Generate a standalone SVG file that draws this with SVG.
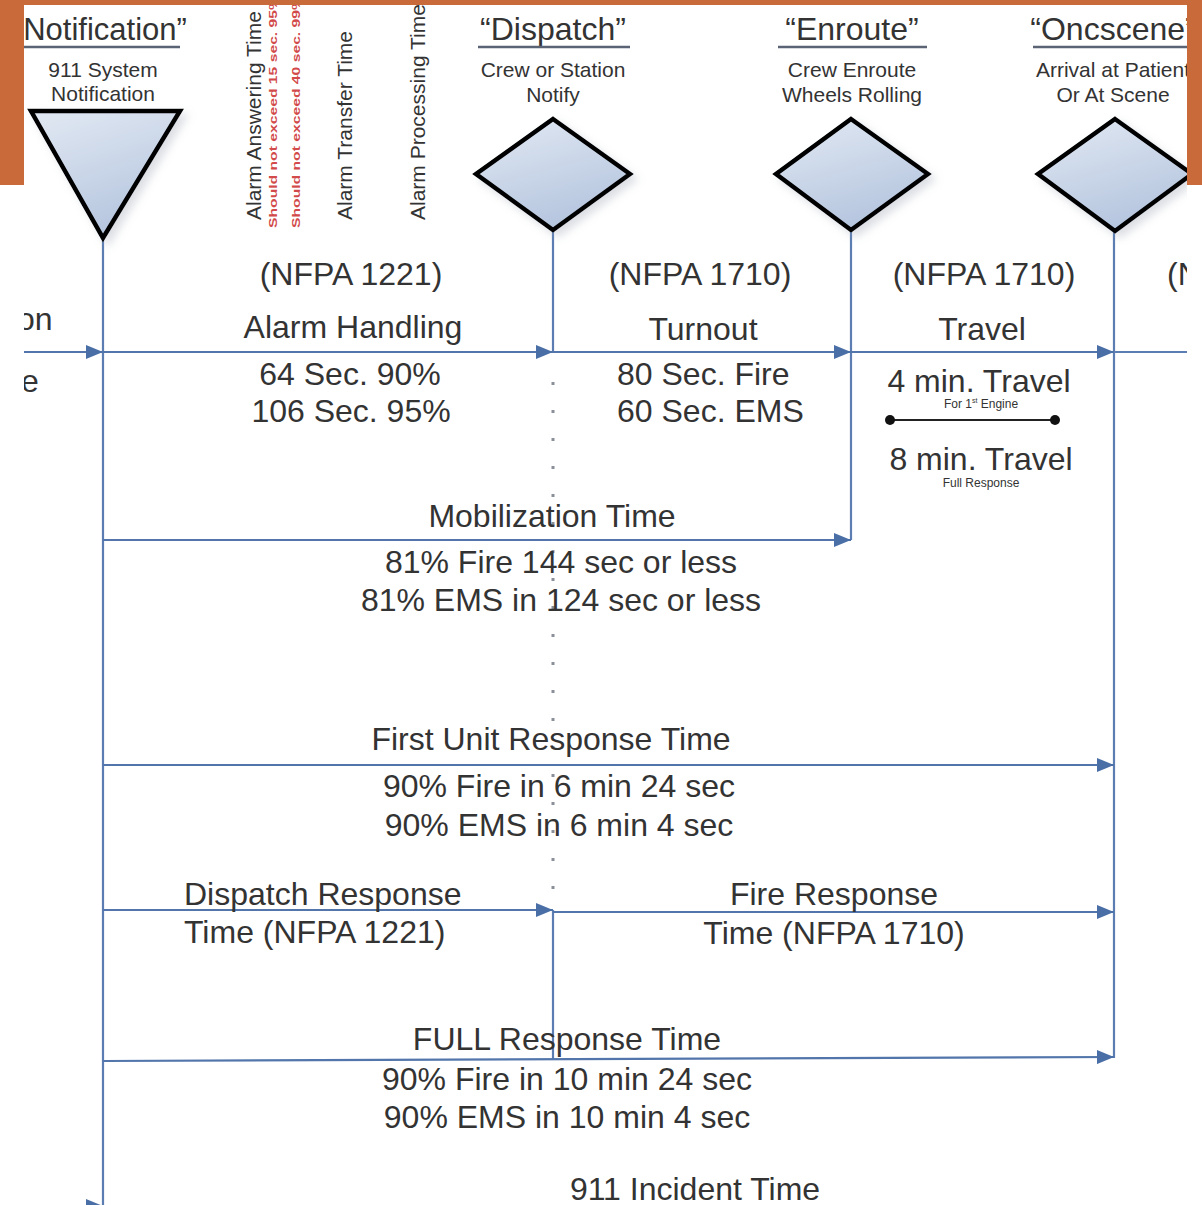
<svg xmlns="http://www.w3.org/2000/svg" width="1202" height="1205" viewBox="0 0 1202 1205">
<style>
text{font-family:"Liberation Sans",Arial,sans-serif;fill:#333}
.hd{font-size:32px;text-anchor:middle}
.sub{font-size:21px;text-anchor:middle}
.lbl{font-size:32px;text-anchor:middle}
.lbls{font-size:32px}
.vt{font-size:21px}
.red{font-size:11px;font-weight:bold;fill:#d24a4a}
.tiny{font-size:12px;text-anchor:middle}
.ul{stroke:#5a6475;stroke-width:2.5}
.shape{stroke:#000;stroke-width:4.5;stroke-linejoin:miter;fill:url(#g1);filter:url(#sh)}
.ln{stroke:#5b7db2;stroke-width:2.2;fill:none}
.arr{stroke:#5276ab;stroke-width:2.2;fill:none;marker-end:url(#ah)}
.dots{stroke:#8a8f99;stroke-width:3;stroke-dasharray:3 25;fill:none}
.orange{fill:#c96a3b}
</style>
<defs>
<linearGradient id="g1" x1="0" y1="0" x2="0.4" y2="1">
<stop offset="0" stop-color="#e2e9f3"/>
<stop offset="1" stop-color="#b6c6df"/>
</linearGradient>
<filter id="sh" x="-20%" y="-20%" width="150%" height="150%">
<feDropShadow dx="5" dy="5" stdDeviation="4" flood-color="#9aa3b0" flood-opacity="0.35"/>
</filter>
<marker id="ah" markerUnits="userSpaceOnUse" markerWidth="18" markerHeight="14" refX="17" refY="7" orient="auto">
<path d="M0,0 L17,7 L0,14 Z" fill="#4a6ea6"/>
</marker>
</defs>
<rect width="1202" height="1205" fill="#fff"/>

<g id="connectors">
<line class="ln" x1="103" y1="236" x2="103" y2="1205"/>
<line class="ln" x1="553" y1="228" x2="553" y2="352"/>
<line class="dots" x1="553" y1="382" x2="553" y2="905"/>
<line class="ln" x1="553" y1="910" x2="553" y2="1060"/>
<line class="ln" x1="851" y1="228" x2="851" y2="540"/>
<line class="ln" x1="1114" y1="230" x2="1114" y2="1058"/>
<line class="arr" x1="20" y1="352" x2="103" y2="352"/>
<line class="arr" x1="103" y1="352" x2="553" y2="352"/>
<line class="arr" x1="553" y1="352" x2="851" y2="352"/>
<line class="arr" x1="851" y1="352" x2="1114" y2="352"/>
<line class="ln" x1="1114" y1="352" x2="1190" y2="352"/>
<line class="arr" x1="103" y1="540" x2="851" y2="540"/>
<line class="arr" x1="103" y1="765" x2="1114" y2="765"/>
<line class="arr" x1="103" y1="910" x2="553" y2="910"/>
<line class="arr" x1="553" y1="912" x2="1114" y2="912"/>
<line class="arr" x1="103" y1="1061" x2="1114" y2="1057"/>
<line class="arr" x1="20" y1="1206" x2="103" y2="1206"/>
</g>

<g id="node-notification">
<text class="hd" x="105" y="40" style="font-size:31px">Notification”</text>
<line class="ul" x1="24" y1="47" x2="180" y2="47"/>
<text class="sub" x="103" y="77">911 System</text>
<text class="sub" x="103" y="101">Notification</text>
<path class="shape" d="M31,111 L180,111 L103,238 Z"/>
</g>

<g id="alarm-times">
<text class="vt" transform="translate(261,220) rotate(-90)">Alarm Answering Time</text>
<text class="red" transform="translate(277,228) rotate(-90)" textLength="232" lengthAdjust="spacingAndGlyphs">Should not exceed 15 sec. 95%</text>
<text class="red" transform="translate(300,228) rotate(-90)" textLength="232" lengthAdjust="spacingAndGlyphs">Should not exceed 40 sec. 99%</text>
<text class="vt" transform="translate(352,220) rotate(-90)">Alarm Transfer Time</text>
<text class="vt" transform="translate(425,220) rotate(-90)">Alarm Processing Time</text>
</g>

<g id="node-dispatch">
<text class="hd" x="553" y="40">“Dispatch”</text>
<line class="ul" x1="478" y1="47" x2="630" y2="47"/>
<text class="sub" x="553" y="77">Crew or Station</text>
<text class="sub" x="553" y="102">Notify</text>
<path class="shape" d="M553,119 L630,174 L553,230 L476,174 Z"/>
</g>

<g id="node-enroute">
<text class="hd" x="852" y="40">“Enroute”</text>
<line class="ul" x1="778" y1="47" x2="927" y2="47"/>
<text class="sub" x="852" y="77">Crew Enroute</text>
<text class="sub" x="852" y="102">Wheels Rolling</text>
<path class="shape" d="M851,119 L928,174 L851,230 L776,174 Z"/>
</g>

<g id="node-oncscene">
<text class="hd" x="1113" y="40">“Oncscene”</text>
<line class="ul" x1="1033" y1="47" x2="1190" y2="47"/>
<text class="sub" x="1113" y="77">Arrival at Patient</text>
<text class="sub" x="1113" y="102">Or At Scene</text>
<path class="shape" d="M1115,119 L1192,174 L1115,231 L1038,174 Z"/>
</g>

<g id="phase-alarm">
<text class="lbl" x="351" y="285">(NFPA 1221)</text>
<text class="lbl" x="353" y="338">Alarm Handling</text>
<text class="lbl" x="350" y="385">64 Sec. 90%</text>
<text class="lbl" x="351" y="422">106 Sec. 95%</text>
</g>

<g id="phase-turnout">
<text class="lbl" x="700" y="285">(NFPA 1710)</text>
<text class="lbl" x="703" y="340">Turnout</text>
<text class="lbls" x="617" y="385">80 Sec. Fire</text>
<text class="lbls" x="617" y="422">60 Sec. EMS</text>
</g>

<g id="phase-travel">
<text class="lbl" x="984" y="285">(NFPA 1710)</text>
<text class="lbl" x="982" y="340">Travel</text>
<text class="lbl" x="979" y="392">4 min. Travel</text>
<text class="tiny" x="981" y="408">For 1<tspan font-size="7" dy="-5">st</tspan><tspan dy="5"> Engine</tspan></text>
<line x1="890" y1="420" x2="1055" y2="420" stroke="#222" stroke-width="2"/>
<circle cx="890" cy="420" r="5" fill="#111"/>
<circle cx="1055" cy="420" r="5" fill="#111"/>
<text class="lbl" x="981" y="470">8 min. Travel</text>
<text class="tiny" x="981" y="487">Full Response</text>
<text class="lbls" x="1167" y="285">(N</text>
</g>

<g id="left-cut">
<text class="lbls" x="17" y="330">on</text>
<text class="lbls" x="21" y="392">e</text>
</g>

<g id="mobilization">
<text class="lbl" x="552" y="527">Mobilization Time</text>
<text class="lbl" x="561" y="573">81% Fire 144 sec or less</text>
<text class="lbl" x="561" y="611">81% EMS in 124 sec or less</text>
</g>

<g id="first-unit">
<text class="lbl" x="551" y="750">First Unit Response Time</text>
<text class="lbl" x="559" y="797">90% Fire in 6 min 24 sec</text>
<text class="lbl" x="559" y="836">90% EMS in 6 min 4 sec</text>
</g>

<g id="dispatch-response">
<text class="lbls" x="184" y="905">Dispatch Response</text>
<text class="lbls" x="184" y="943">Time (NFPA 1221)</text>
</g>

<g id="fire-response">
<text class="lbl" x="834" y="905">Fire Response</text>
<text class="lbl" x="834" y="944">Time (NFPA 1710)</text>
</g>

<g id="full-response">
<text class="lbl" x="567" y="1050">FULL Response Time</text>
<text class="lbl" x="567" y="1090">90% Fire in 10 min 24 sec</text>
<text class="lbl" x="567" y="1128">90% EMS in 10 min 4 sec</text>
<text class="lbl" x="695" y="1200">911 Incident Time</text>
</g>

<g id="frame">
<rect x="0" y="185" width="24" height="1020" fill="#fff"/>
<rect x="1187" y="185" width="15" height="1020" fill="#fff"/>
<rect class="orange" x="0" y="0" width="1202" height="5"/>
<rect class="orange" x="0" y="0" width="24" height="185"/>
<rect class="orange" x="1187" y="0" width="15" height="185"/>
</g>
</svg>
